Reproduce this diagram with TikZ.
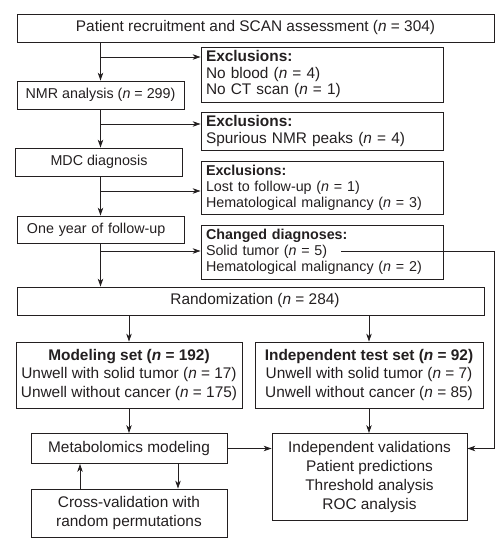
\documentclass[tikz,border=0pt]{standalone}
\usepackage{fontspec}
\setmainfont{Liberation Sans}
\usetikzlibrary{arrows.meta}
\definecolor{ink}{RGB}{35,31,32}
\begin{document}
\begin{tikzpicture}[x=1pt,y=-1pt,
  bx/.style={draw=ink, line width=0.8pt, inner sep=0pt, text=ink,
    font=\fontsize{15.4}{16.5}\selectfont, align=center},
  small/.style={font=\fontsize{14.3}{16}\selectfont},
  exbox/.style={bx, inner xsep=5pt, text width=232pt, align=left, minimum width=242pt},
  arr/.style={draw=ink, line width=0.8pt, -{Stealth[length=8pt,width=5.5pt,inset=2.5pt]}},
  ln/.style={draw=ink, line width=0.8pt}]
\useasboundingbox (0,0) rectangle (501,541);

\node[bx, minimum width=477pt, minimum height=28pt] (top) at (255.5,28)
  {Patient recruitment and SCAN assessment (\textit{n} = 304)};
\node[exbox, minimum height=55pt] (ex1) at (322,74.5)
  {\textbf{Exclusions:}\\No blood (\textit{n} = 4)\\No CT scan (\textit{n} = 1)};
\node[bx, small, minimum width=167pt, minimum height=28pt] (nmr) at (100.5,95)
  {NMR analysis (\textit{n} = 299)};
\node[exbox, minimum height=38pt] (ex2) at (322,131)
  {\textbf{Exclusions:}\\Spurious NMR peaks (\textit{n} = 4)};
\node[bx, small, minimum width=167pt, minimum height=28pt] (mdc) at (99,162)
  {MDC diagnosis};
\node[exbox, small, minimum height=53pt] (ex3) at (322,187.5)
  {\textbf{Exclusions:}\\Lost to follow-up (\textit{n} = 1)\\Hematological malignancy (\textit{n} = 3)};
\node[bx, small, inner xsep=10pt, text width=147pt, align=left, minimum height=27pt] (year) at (100.5,229.5)
  {One year of follow-up};
\node[exbox, small, minimum height=54pt] (chg) at (322,252)
  {\textbf{Changed diagnoses:}\\Solid tumor (\textit{n} = 5)\\Hematological malignancy (\textit{n} = 2)};
\node[bx, minimum width=467pt, minimum height=28pt] (rand) at (250.5,301)
  {\hspace*{9pt}Randomization (\textit{n} = 284)};
\node[bx, font=\fontsize{15.4}{18.5}\selectfont, minimum width=226pt, minimum height=66pt] (mod) at (129,375)
  {\textbf{Modeling set (\textit{n} = 192)}\\Unwell with solid tumor (\textit{n} = 17)\\Unwell without cancer (\textit{n} = 175)};
\node[bx, font=\fontsize{15.4}{18.5}\selectfont, minimum width=228pt, minimum height=66pt] (test) at (369,375)
  {\textbf{Independent test set (\textit{n} = 92)}\\Unwell with solid tumor (\textit{n} = 7)\\Unwell without cancer (\textit{n} = 85)};
\node[bx, minimum width=196pt, minimum height=30pt] (meta) at (129,448.5)
  {Metabolomics modeling};
\node[bx, font=\fontsize{15.4}{19}\selectfont, minimum width=195pt, minimum height=87pt] (valid) at (369.5,477)
  {Independent validations\\Patient predictions\\Threshold analysis\\ROC analysis};
\node[bx, font=\fontsize{15.4}{19}\selectfont, minimum width=196pt, minimum height=48pt] (cross) at (129,513)
  {Cross-validation with\\random permutations};

% main chain
\coordinate (b1) at (100.5,57);
\coordinate (b2) at (100.5,124);
\coordinate (b3) at (100.5,191);
\coordinate (b4) at (100.5,251);
\draw[arr] (b1 |- top.south) -- (b1 |- nmr.north);
\draw[arr] (b1) -- (b1 -| ex1.west);
\draw[arr] (b1 |- nmr.south) -- (b1 |- mdc.north);
\draw[arr] (b2) -- (b2 -| ex2.west);
\draw[arr] (b1 |- mdc.south) -- (b1 |- year.north);
\draw[arr] (b3) -- (b3 -| ex3.west);
\draw[arr] (b1 |- year.south) -- (b1 |- rand.north);
\draw[arr] (b4) -- (b4 -| chg.west);

\draw[arr] (mod.north |- rand.south) -- (mod.north);
\draw[arr] (test.north |- rand.south) -- (test.north);
\draw[arr] (mod.south) -- (meta.north);
\draw[arr] (test.south) -- (test.south |- valid.north);
\draw[arr] (meta.east) -- (meta.east -| valid.west);
\draw[arr] ([xshift=-49pt]cross.north) -- ([xshift=-49pt]meta.south);
\draw[arr] ([xshift=49pt]meta.south) -- ([xshift=49pt]cross.north);

\coordinate (st) at (341,251);
\coordinate (rc) at (494,448.5);
\draw[arr] (st) -| (rc) -- (rc -| valid.east);
\end{tikzpicture}
\end{document}
